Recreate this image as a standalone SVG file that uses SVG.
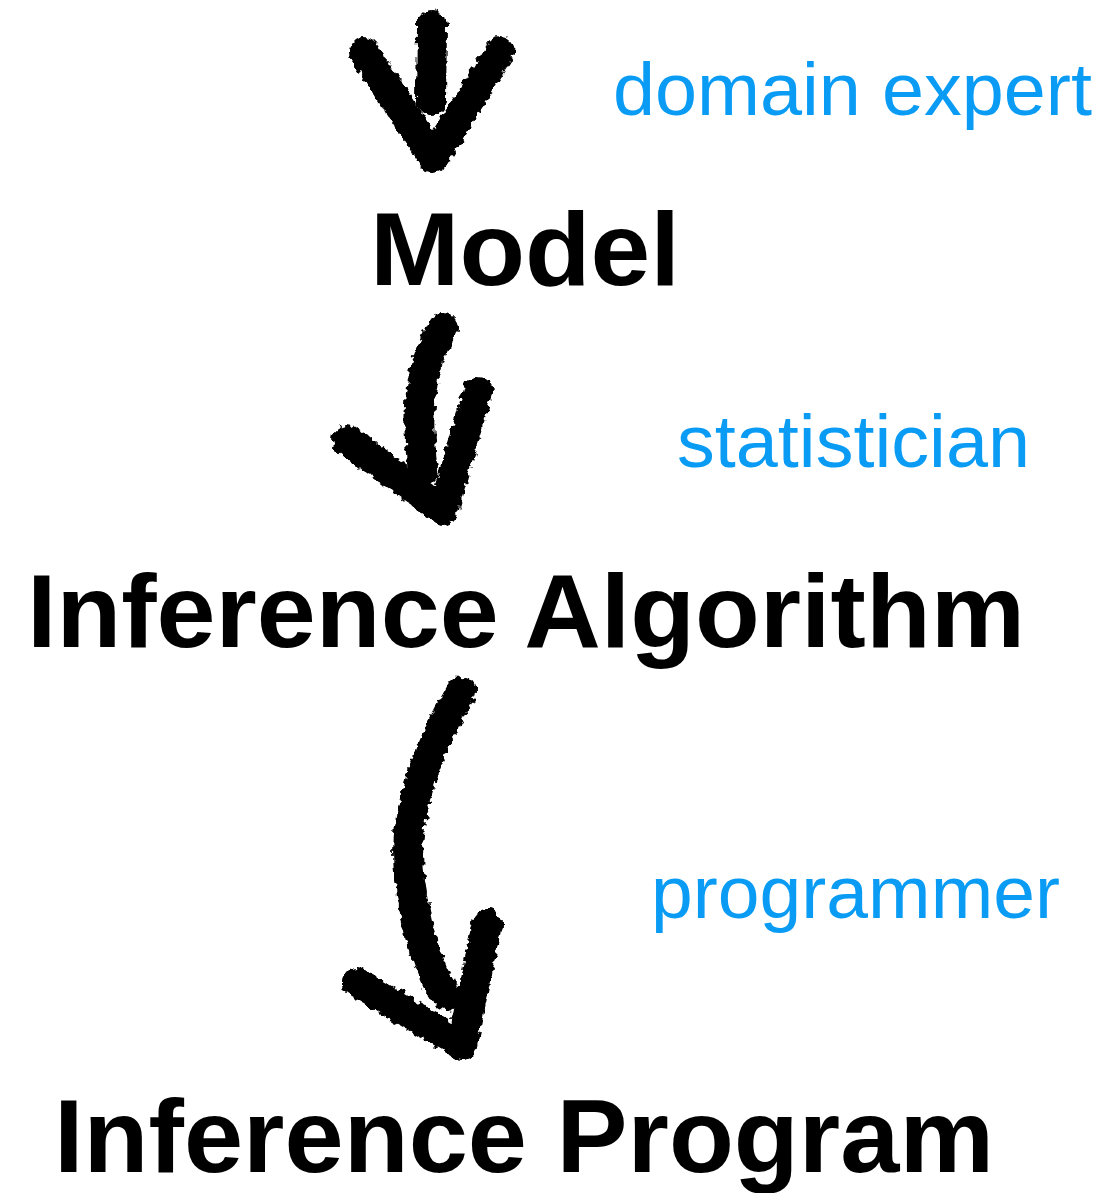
<svg xmlns="http://www.w3.org/2000/svg" width="1105" height="1193" viewBox="0 0 1105 1193">
<style>
.node{font-family:"Liberation Sans",Arial,sans-serif;font-weight:bold;fill:#000;font-size:104px}
.role{font-family:"Liberation Sans",Arial,sans-serif;fill:#0a9cf5;font-size:75px}
.brush{fill:none;stroke:#000;stroke-width:30;stroke-linecap:round;stroke-linejoin:round;filter:url(#rough)}
</style>
<defs>
<filter id="rough" filterUnits="userSpaceOnUse" x="0" y="0" width="1105" height="1193">
<feTurbulence type="fractalNoise" baseFrequency="0.15" numOctaves="2" seed="3" result="n"/>
<feDisplacementMap in="SourceGraphic" in2="n" scale="9" xChannelSelector="R" yChannelSelector="G"/>
</filter>
</defs>
<rect width="1105" height="1193" fill="#fff"/>
<g id="connectors">
<g id="arrow1">
<path class="brush" d="M432 26 L431 100"/>
<path class="brush" d="M364 52 L433 158 L500 52"/>
</g>
<g id="arrow2">
<path class="brush" d="M443 328 Q410 380 423 470"/>
<path class="brush" d="M347 440 L443 510 L478 392"/>
</g>
<g id="arrow3">
<path class="brush" d="M461 692 Q398 800 410 880 Q420 960 446 996"/>
<path class="brush" d="M357 982 L462 1045 L487 924"/>
</g>
</g>
<g id="model"><text class="node" x="370" y="285" textLength="310" lengthAdjust="spacingAndGlyphs">Model</text></g>
<g id="inference-algorithm"><text class="node" x="27" y="647" textLength="998" lengthAdjust="spacingAndGlyphs">Inference Algorithm</text></g>
<g id="inference-program"><text class="node" x="54" y="1172" font-size="100" textLength="940" lengthAdjust="spacingAndGlyphs">Inference Program</text></g>
<g id="domain-expert"><text class="role" x="613" y="115" textLength="479" lengthAdjust="spacingAndGlyphs">domain expert</text></g>
<g id="statistician"><text class="role" x="677" y="467" textLength="353" lengthAdjust="spacingAndGlyphs">statistician</text></g>
<g id="programmer"><text class="role" x="651" y="918" textLength="409" lengthAdjust="spacingAndGlyphs">programmer</text></g>
</svg>
